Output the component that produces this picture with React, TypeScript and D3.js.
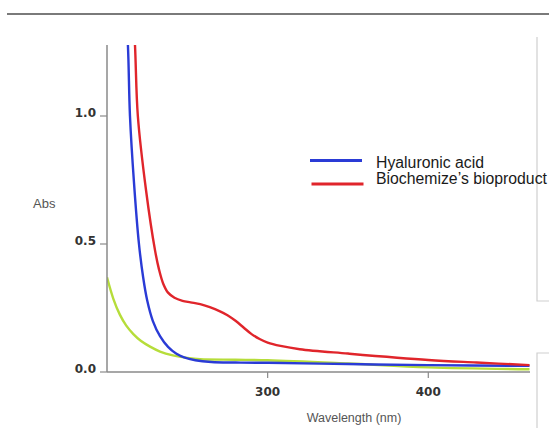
import React from "react";
import * as d3 from "d3";

const blueWl = [210, 213, 214.3, 216.8, 219.9, 222.5, 225, 228.5, 233, 238, 243, 248, 255, 265, 280, 300, 350, 400, 463];
const blueAbs = [1.6, 1.28, 1.0, 0.74, 0.5, 0.37, 0.28, 0.2, 0.14, 0.098, 0.072, 0.057, 0.046, 0.039, 0.037, 0.036, 0.031, 0.027, 0.024];

const redWl = [215, 217.4, 219.2, 224.3, 229.9, 232.4, 235, 238, 242, 247, 252, 258, 264, 270, 275, 280, 285, 290, 295, 300, 308, 320, 350, 400, 430, 463];
const redAbs = [1.55, 1.28, 1.0, 0.71, 0.475, 0.4, 0.345, 0.31, 0.29, 0.278, 0.272, 0.265, 0.253, 0.238, 0.222, 0.2, 0.174, 0.148, 0.129, 0.115, 0.102, 0.089, 0.072, 0.047, 0.037, 0.027];

const greenWl = [200, 204, 208, 212, 216.4, 221, 226.8, 233, 241, 250, 258, 280, 300, 350, 400, 463];
const greenAbs = [0.37, 0.285, 0.224, 0.181, 0.148, 0.122, 0.099, 0.08, 0.065, 0.055, 0.05, 0.048, 0.046, 0.033, 0.018, 0.011];

const xTicks = [300, 400];
const yTicks = [0.0, 0.5, 1.0];
const legendLabels = ["Hyaluronic acid", "Biochemize\u2019s bioproduct"];
const colors = { blue: "#2a3bd6", red: "#e0252b", green: "#b6dd3a" };

export default function App() {
  const W = 549, H = 428;
  const x = d3.scaleLinear().domain([200, 463]).range([107, 529.5]);
  const y = d3.scaleLinear().domain([0, 1]).range([372, 116]);
  const top = 45;
  const line = d3
    .line<[number, number]>()
    .x((d) => x(d[0]))
    .y((d) => y(d[1]))
    .curve(d3.curveCatmullRom.alpha(0.5));
  const mk = (w: number[], a: number[]) => w.map((v, i) => [v, a[i]] as [number, number]);
  const series = [
    { d: mk(greenWl, greenAbs), c: colors.green },
    { d: mk(blueWl, blueAbs), c: colors.blue },
    { d: mk(redWl, redAbs), c: colors.red },
  ];
  const axisColor = "#8a8a8a";
  const tickFont = "'DejaVu Sans', Verdana, sans-serif";
  const sans = "'Liberation Sans', Arial, sans-serif";
  return (
    <svg
      width={W}
      height={H}
      style={{ position: "absolute", left: 0, top: 0, background: "#fff" }}
    >
      <defs>
        <clipPath id="plot">
          <rect x={107} y={top} width={423} height={372 - top} />
        </clipPath>
      </defs>
      <line x1={7} x2={549} y1={14} y2={14} stroke="#7a7a7a" strokeWidth={2} />
      <path d="M537,37 V301 H549" fill="none" stroke="#cfcfcf" strokeWidth={1.2} />
      <path d="M549,353 H537 V428" fill="none" stroke="#cfcfcf" strokeWidth={1.2} />

      <g clipPath="url(#plot)">
        {series.map((s, i) => (
          <path key={i} d={line(s.d) || ""} fill="none" stroke={s.c} strokeWidth={2.4} />
        ))}
      </g>

      <line x1={107} x2={107} y1={top} y2={372} stroke={axisColor} strokeWidth={1.5} />
      <line x1={107} x2={530} y1={372} y2={372} stroke={axisColor} strokeWidth={1.5} />
      {yTicks.map((t) => (
        <g key={t}>
          <line x1={100} x2={107} y1={y(t)} y2={y(t)} stroke={axisColor} strokeWidth={1.2} />
          <text
            x={96}
            y={y(t) + 1}
            textAnchor="end"
            fontFamily={tickFont}
            fontWeight="bold"
            fontSize={12}
            fill="#333"
          >
            {t.toFixed(1)}
          </text>
        </g>
      ))}
      {xTicks.map((t) => (
        <g key={t}>
          <line x1={x(t)} x2={x(t)} y1={372} y2={378} stroke={axisColor} strokeWidth={1.2} />
          <text
            x={x(t)}
            y={395.5}
            textAnchor="middle"
            fontFamily={tickFont}
            fontWeight="bold"
            fontSize={12}
            fill="#333"
          >
            {t}
          </text>
        </g>
      ))}
      <text x={33} y={208} fontFamily={sans} fontSize={13} fill="#555">
        Abs
      </text>
      <text x={354} y={422} textAnchor="middle" fontFamily={sans} fontSize={12.5} fill="#555">
        Wavelength (nm)
      </text>

      <line x1={310} x2={362} y1={160.5} y2={160.5} stroke={colors.blue} strokeWidth={3} />
      <line x1={311.5} x2={363.5} y1={184} y2={184} stroke={colors.red} strokeWidth={3} />
      <text x={376} y={167.5} fontFamily={sans} fontSize={15.8} fill="#1a1a1a">
        {legendLabels[0]}
      </text>
      <text x={376} y={184} fontFamily={sans} fontSize={15.8} fill="#1a1a1a">
        {legendLabels[1]}
      </text>
    </svg>
  );
}
